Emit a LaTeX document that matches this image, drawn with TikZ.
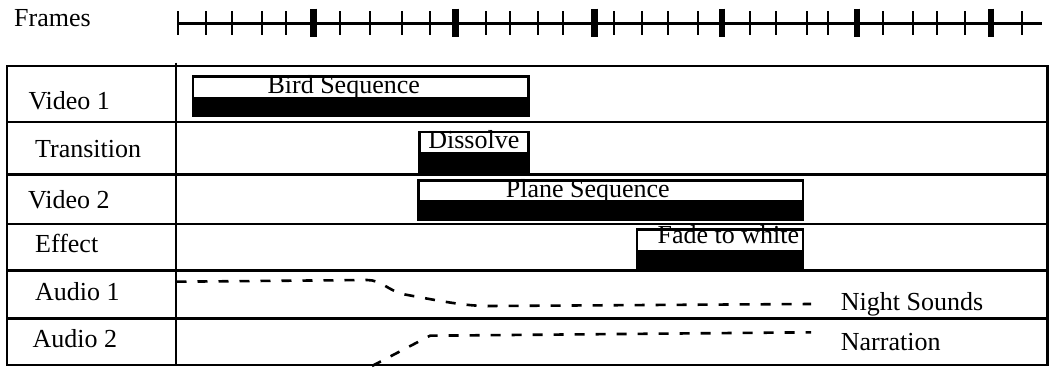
\documentclass[tikz,border=0pt]{standalone}
\usepackage{fontspec}
\setmainfont{Liberation Serif}
\begin{document}
\begin{tikzpicture}[x=1pt,y=-1pt,
  grid/.style={line width=2.4pt},
  ruler/.style={line width=2.6pt},
  minortick/.style={line width=2.6pt},
  majortick/.style={line width=6.5pt},
  lbl/.style={inner sep=0pt, anchor=base west, font=\fontsize{26}{26}\selectfont},
  cliptext/.style={inner sep=0pt, anchor=base, font=\fontsize{26}{26}\selectfont},
  audio/.style={line width=2.6pt, dash pattern=on 10pt off 11pt}]
\useasboundingbox (0,0) rectangle (1052,367);

% frame ruler
\node[lbl] (frames) at (14,26.7) {Frames};
\draw[ruler] (178,23.3) -- (1042,23.3);
\foreach \x in {178,206,232,262,286,340,370,402,430,486,510,538,563,614,642,668,698,750,776,807,828,883,913,937,965,1022}
  \draw[minortick] (\x,11) -- (\x,34.5);
\foreach \x in {313.5,455.5,594.5,722,857,991}
  \draw[majortick] (\x,8.5) -- (\x,36.7);

% track table
\draw[grid] (7,66) rectangle (1047.5,365);
\draw[grid] (176,62.5) -- (176,365);
\foreach \y in {121.7,174.5,224,270.5,318.3}
  \draw[grid] (7,\y) -- (1047.5,\y);

% track names
\node[lbl] (v1)  at (28.3,109.3) {Video 1};
\node[lbl] (tr)  at (35,157.3) {Transition};
\node[lbl] (v2)  at (28,208.3) {Video 2};
\node[lbl] (eff) at (35,252.7) {Effect};
\node[lbl] (a1)  at (35,300) {Audio 1};
\node[lbl] (a2)  at (32.3,347.3) {Audio 2};

% clips: white title strip over a black bar
\fill (191.5,75) rectangle (529.5,117);
\fill[white] (194.2,77.7) rectangle (526.8,96.7);
\node[cliptext] (bird) at (343.7,93.3) {Bird Sequence};

\fill (418,130.7) rectangle (529.5,173);
\fill[white] (420.7,133.4) rectangle (526.8,151.7);
\node[cliptext] (dissolve) at (473.8,148.3) {Dissolve};

\fill (417.3,179) rectangle (804.3,221);
\fill[white] (420,181.7) rectangle (801.6,200);
\node[cliptext] (plane) at (587.8,197.3) {Plane Sequence};

\fill (635.7,228.3) rectangle (804.3,269.5);
\fill[white] (638.4,231) rectangle (801.6,250);
\node[cliptext] (fade) at (728.3,243.3) {Fade to white};

% audio levels
\coordinate (n0) at (176.5,281.7);
\coordinate (n1) at (367,280);
\coordinate (n2) at (405,294.5);
\coordinate (n3) at (488,306);
\coordinate (n4) at (811,304);
\draw[audio] (n0) -- (n1) .. controls (382,280) and (388,291) .. (n2)
  .. controls (440,301) and (465,306) .. (n3) -- (n4);
\node[lbl] (night) at (840.7,310) {Night Sounds};

\coordinate (r0) at (372,366);
\coordinate (r1) at (430,335.7);
\coordinate (r2) at (811,332.3);
\draw[audio] (r0) -- (r1) -- (r2);
\node[lbl] (narr) at (840.7,350) {Narration};
\end{tikzpicture}
\end{document}
